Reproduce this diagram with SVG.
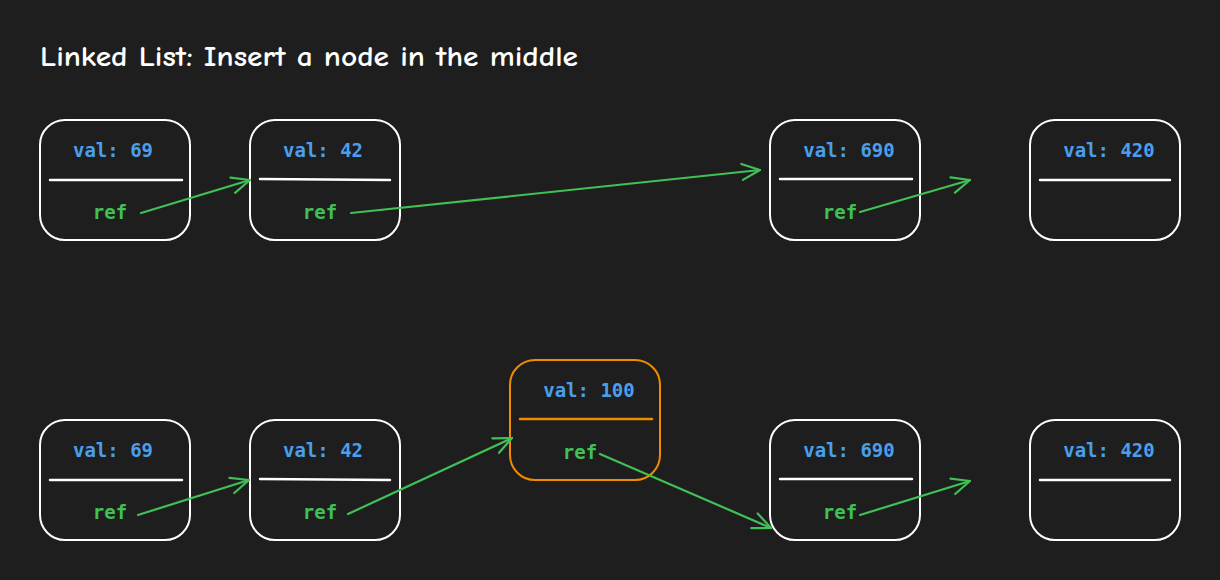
<svg xmlns="http://www.w3.org/2000/svg" width="1220" height="580" viewBox="0 0 1220 580">
<style>
.bg{fill:#1e1e1e}
.box{fill:none;stroke:#ffffff;stroke-width:2}
.box.hl{stroke:#f08c00}
.sep{stroke:#ffffff;stroke-width:2.5;stroke-linecap:round}
.sep.hl{stroke:#f08c00}
.val{font-family:"DejaVu Sans Mono","Liberation Mono",monospace;font-size:19px;font-weight:bold;fill:#4a9eea;text-anchor:middle}
.ref{font-family:"DejaVu Sans Mono","Liberation Mono",monospace;font-size:19px;font-weight:bold;fill:#40c057;text-anchor:middle}
.title{font-family:"Comic Neue","Liberation Sans",sans-serif;font-size:28px;font-weight:bold;fill:#ffffff}
.conn{fill:none;stroke:#40c057;stroke-width:2.2;stroke-linecap:round;marker-end:url(#ah)}
</style>
<defs>
<marker id="ah" markerUnits="userSpaceOnUse" markerWidth="30" markerHeight="30" refX="20" refY="10" orient="auto" viewBox="0 0 30 20">
<path d="M2,2 L20,10 L2,18" fill="none" stroke="#40c057" stroke-width="2.2" stroke-linecap="round" stroke-linejoin="round"/>
</marker>
</defs>
<rect class="bg" x="0" y="0" width="1220" height="580"/>
<text class="title" x="40" y="66" textLength="538" lengthAdjust="spacingAndGlyphs">Linked List: Insert a node in the middle</text>

<g id="t1"><rect class="box" x="40" y="120" width="150" height="120" rx="25"/><line class="sep" x1="50" y1="180" x2="182" y2="180"/><text class="val" x="113" y="157">val: 69</text><text class="ref" x="110" y="219">ref</text></g>
<g id="t2"><rect class="box" x="250" y="120" width="150" height="120" rx="25"/><line class="sep" x1="260" y1="179" x2="390" y2="180"/><text class="val" x="323" y="157">val: 42</text><text class="ref" x="320" y="219">ref</text></g>
<g id="t3"><rect class="box" x="770" y="120" width="150" height="120" rx="25"/><line class="sep" x1="780" y1="179" x2="912" y2="179"/><text class="val" x="849" y="157">val: 690</text><text class="ref" x="840" y="219">ref</text></g>
<g id="t4"><rect class="box" x="1030" y="120" width="150" height="120" rx="25"/><line class="sep" x1="1040" y1="180" x2="1170" y2="180"/><text class="val" x="1109" y="157">val: 420</text></g>

<g id="b1"><rect class="box" x="40" y="420" width="150" height="120" rx="25"/><line class="sep" x1="50" y1="480" x2="182" y2="480"/><text class="val" x="113" y="457">val: 69</text><text class="ref" x="110" y="519">ref</text></g>
<g id="b2"><rect class="box" x="250" y="420" width="150" height="120" rx="25"/><line class="sep" x1="260" y1="479" x2="390" y2="480"/><text class="val" x="323" y="457">val: 42</text><text class="ref" x="320" y="519">ref</text></g>
<g id="bn"><rect class="box hl" x="510" y="360" width="150" height="120" rx="25"/><line class="sep hl" x1="520" y1="419" x2="652" y2="419"/><text class="val" x="589" y="397">val: 100</text><text class="ref" x="580" y="459">ref</text></g>
<g id="b3"><rect class="box" x="770" y="420" width="150" height="120" rx="25"/><line class="sep" x1="780" y1="479" x2="912" y2="479"/><text class="val" x="849" y="457">val: 690</text><text class="ref" x="840" y="519">ref</text></g>
<g id="b4"><rect class="box" x="1030" y="420" width="150" height="120" rx="25"/><line class="sep" x1="1040" y1="480" x2="1170" y2="480"/><text class="val" x="1109" y="457">val: 420</text></g>

<g id="connectors">
<path class="conn" d="M141,213 L250,180"/>
<path class="conn" d="M351,213 L760,170"/>
<path class="conn" d="M860,212 L970,180"/>
<path class="conn" d="M138,515 L249,480"/>
<path class="conn" d="M348,514 L512,438"/>
<path class="conn" d="M600,454 L771,528"/>
<path class="conn" d="M860,515 L970,481"/>
</g>
</svg>
